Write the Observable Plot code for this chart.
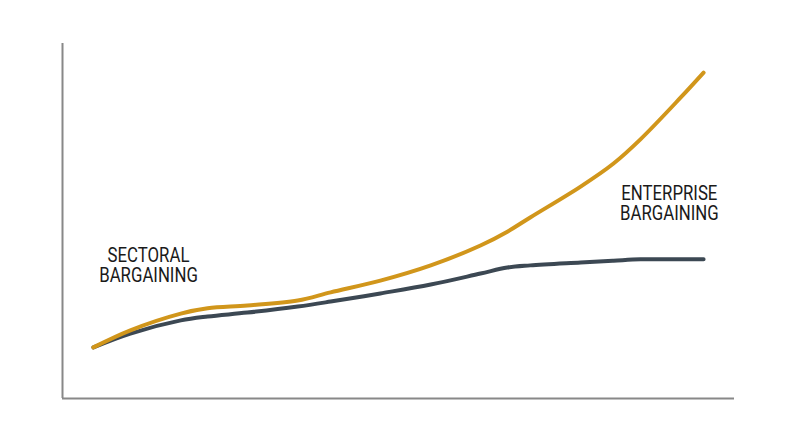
<!DOCTYPE html>
<html>
<head>
<meta charset="utf-8">
<script src="https://cdn.jsdelivr.net/npm/d3@7"></script>
<script src="https://cdn.jsdelivr.net/npm/@observablehq/plot@0.6"></script>
<style>
  html, body { margin: 0; padding: 0; background: #fff; }
  #chart { width: 800px; height: 447px; }
</style>
</head>
<body>
<div id="chart"></div>
<script>
// Relative position along time (0–100) and relative level (0–100)
const xs = [4.6, 10.1, 17.6, 21.6, 27.5, 35.0, 39.9, 47.3, 54.8, 62.2, 66.2, 69.6, 77.1, 82.0, 86.0, 92.0, 95.4];
const enterpriseY = [14.4, 19.2, 23.9, 25.4, 26.2, 27.6, 29.9, 33.2, 37.5, 43.1, 47.0, 51.0, 59.7, 66.2, 73.0, 84.8, 91.8];
const sectoralY   = [14.4, 18.3, 22.0, 23.1, 24.2, 25.9, 27.3, 29.6, 32.1, 35.2, 36.9, 37.5, 38.3, 38.8, 39.2, 39.2, 39.2];

const labelLines = ["SECTORAL", "BARGAINING", "ENTERPRISE", "BARGAINING"];
const labelX = [12.8, 12.8, 90.3, 90.3];
const labelY = [40.3, 34.6, 57.7, 52.1];

const goldLine = xs.map((x, i) => ({x, y: enterpriseY[i]}));
const darkLine = xs.map((x, i) => ({x, y: sectoralY[i]}));
const labels = labelLines.map((t, i) => ({t, x: labelX[i], y: labelY[i]}));

const chart = Plot.plot({
  width: 800,
  height: 447,
  marginLeft: 62,
  marginRight: 66,
  marginTop: 43,
  marginBottom: 49,
  x: {domain: [0, 100], axis: null},
  y: {domain: [0, 100], axis: null},
  style: {background: "#fff"},
  marks: [
    Plot.ruleX([0], {y1: 0, y2: 100, stroke: "#888", strokeWidth: 2}),
    Plot.ruleY([0], {x1: 0, x2: 100, stroke: "#888", strokeWidth: 2}),
    Plot.line(darkLine, {x: "x", y: "y", stroke: "#3c4853", strokeWidth: 4, curve: "catmull-rom", strokeLinecap: "round"}),
    Plot.line(goldLine, {x: "x", y: "y", stroke: "#d1961b", strokeWidth: 4, curve: "catmull-rom", strokeLinecap: "round"}),
    Plot.text(labels, {x: "x", y: "y", text: "t", fontSize: 21, fill: "#1a1a1a",
      fontFamily: "Roboto, sans-serif", textAnchor: "middle", className: "lbl"})
  ]
});
document.getElementById("chart").appendChild(chart);
// condense the label glyphs horizontally (reference uses a condensed face)
d3.select(chart).selectAll(".lbl text").each(function() {
  const t = this.getAttribute("transform") || "";
  this.setAttribute("transform", t + " scale(0.8,1)");
});
</script>
</body>
</html>
